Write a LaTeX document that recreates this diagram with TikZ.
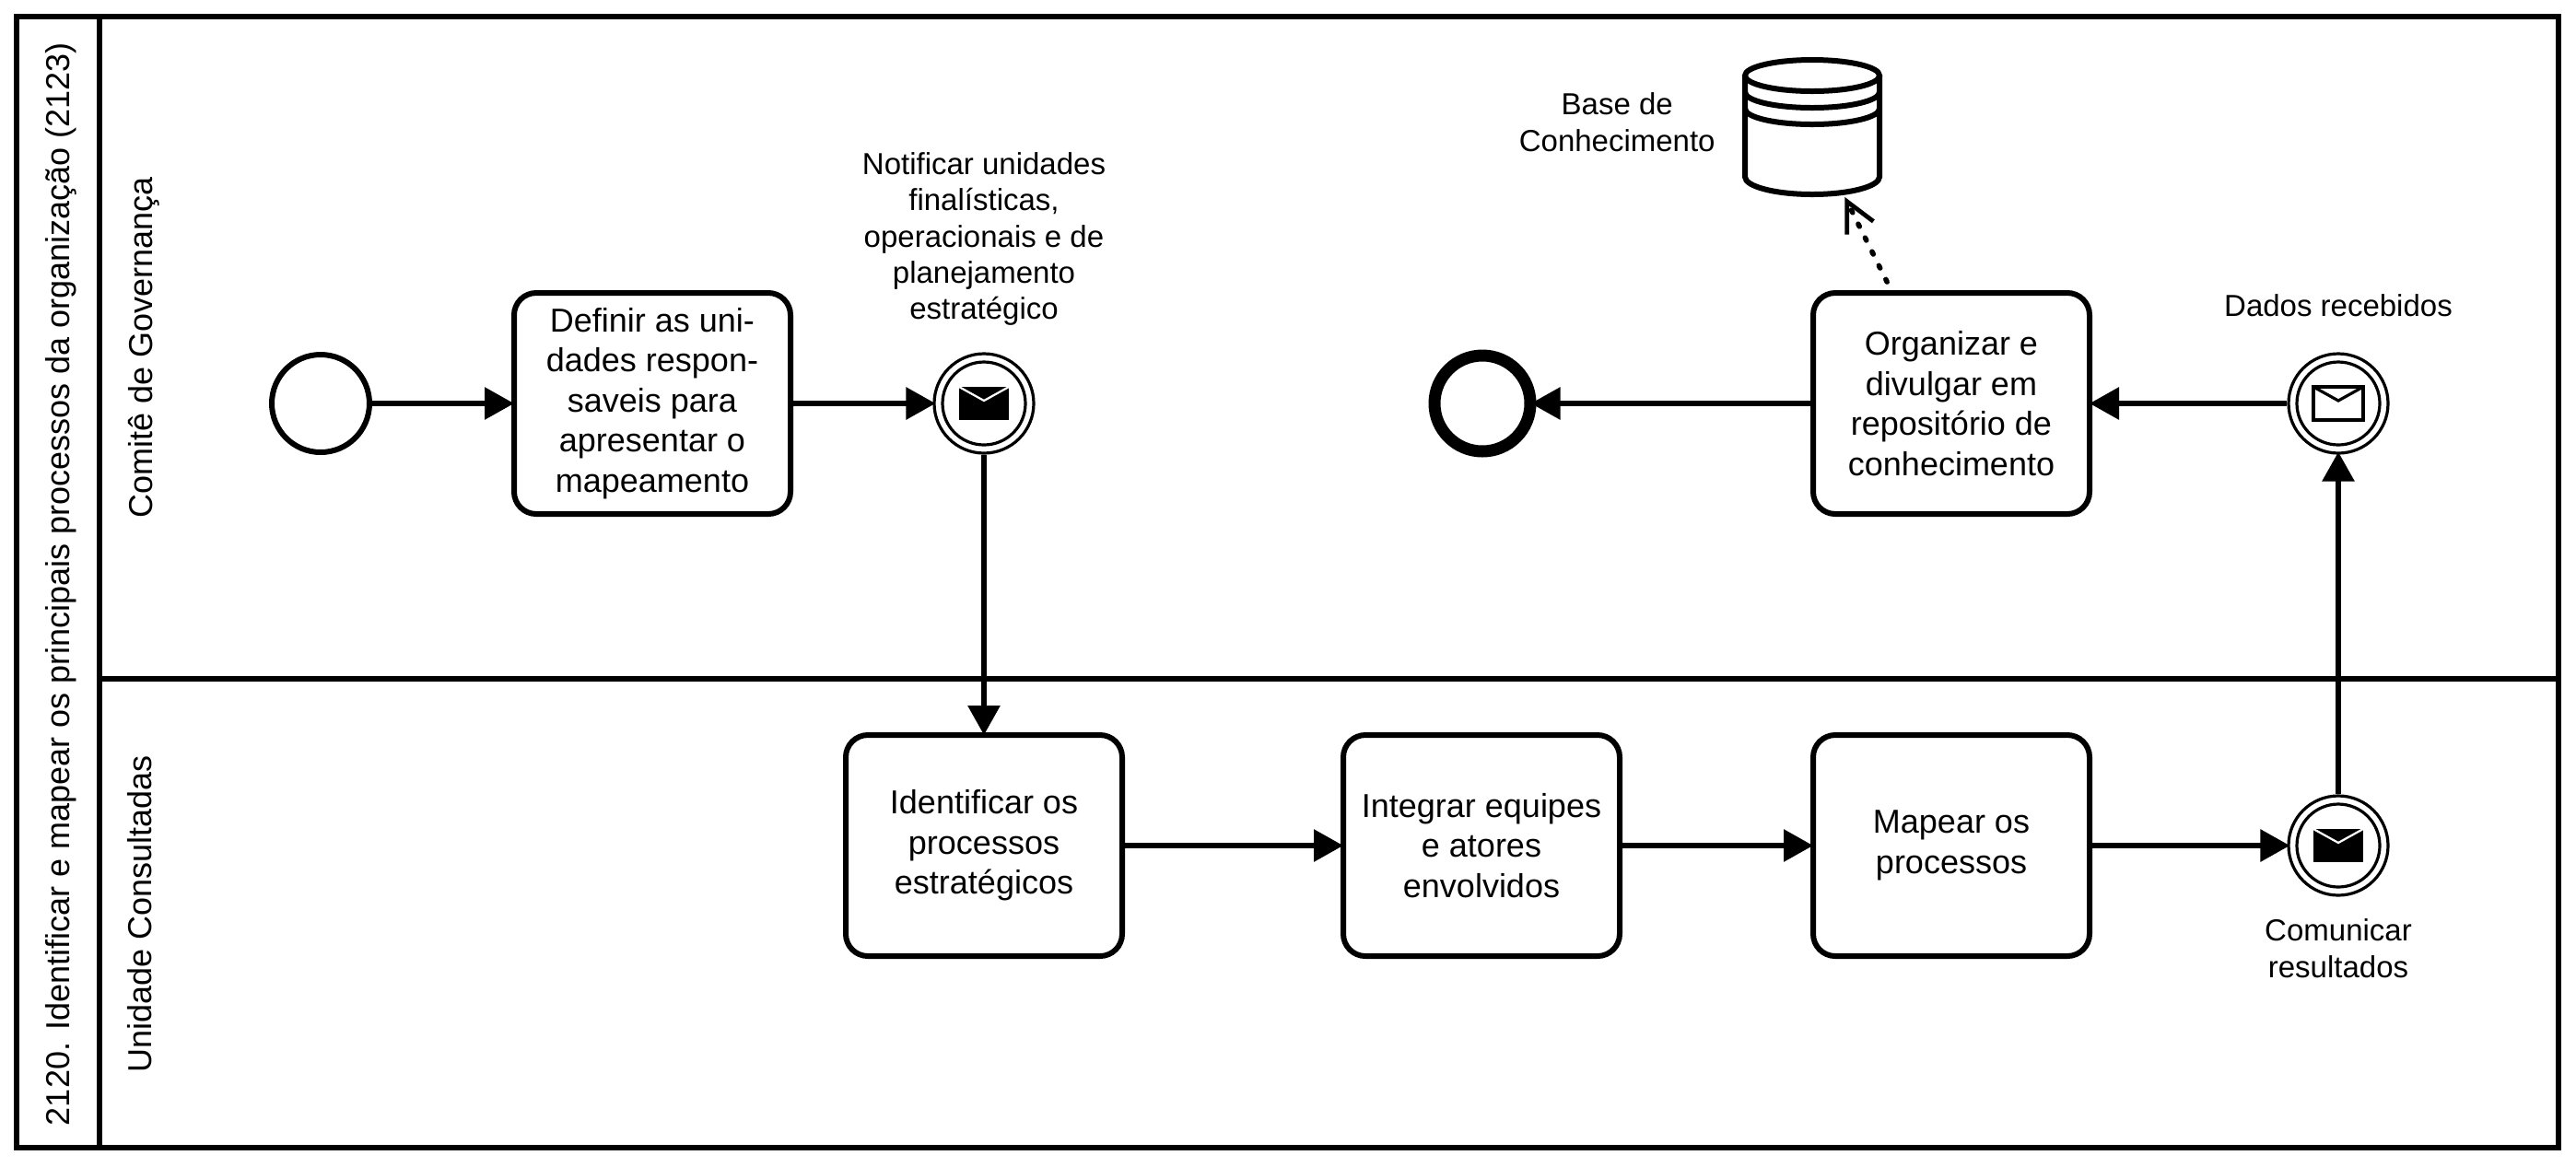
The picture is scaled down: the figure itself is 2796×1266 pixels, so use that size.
\documentclass[tikz,border=0pt]{standalone}
\usepackage{fontspec}
\setmainfont{Liberation Sans}
\usetikzlibrary{arrows.meta,positioning}

\tikzset{
	poolline/.style={line width=3pt},
	tasknode/.style={draw,line width=3pt,rounded corners=12pt,minimum width=150pt,minimum height=120pt,align=center,inner sep=0pt,font=\fontsize{18}{21.8}\selectfont},
	startnode/.style={draw,circle,line width=3pt,minimum size=53pt,inner sep=0pt},
	endnode/.style={draw,circle,line width=6.5pt,minimum size=52pt,inner sep=0pt},
	msgnode/.style={draw,circle,line width=1.6pt,minimum size=54pt,inner sep=0pt},
	eventlabel/.style={align=center,inner sep=0pt,font=\fontsize{16.5}{19.6}\selectfont},
	swimlabel/.style={rotate=90,inner sep=0pt,font=\fontsize{18}{21.6}\selectfont},
	flow/.style={line width=3pt,shorten >=-1.5pt,-{Triangle[length=16pt,width=17pt]}},
	dataflow/.style={line width=2.8pt,line cap=round,dash pattern=on 1.5pt off 6.9pt,shorten <=5pt,-{Straight Barb[length=16pt,width=16pt,line width=2.4pt]}},
	dbbox/.style={minimum width=73pt,minimum height=76pt,inner sep=0pt,outer sep=0pt},
	pics/msgsend/.style={code={
		\draw[line width=1.6pt] (0,0) circle (45);
		\fill (-27,-18) rectangle (27,18);
		\draw[white,line width=1.1pt] (-27,-18) -- (0,-3) -- (27,-18);
	}},
	pics/msgrecv/.style={code={
		\draw[line width=1.6pt] (0,0) circle (45);
		\draw[line width=1.6pt] (-27,-18) rectangle (27,18);
		\draw[line width=1.6pt] (-27,-18) -- (0,-3) -- (27,-18);
	}}
}

\begin{document}
\begin{tikzpicture}[x=0.5pt,y=-0.5pt]
	\useasboundingbox (0,0) rectangle (2796,1266);
	% pool and lanes
	\draw[poolline] (18,18) rectangle (2777,1246);
	\draw[poolline] (108,18) -- (108,1246);
	\draw[poolline] (108,737) -- (2777,737);
	\node[swimlabel] (pooltitle) at (66,634) {2120. Identificar e mapear os principais processos da organização (2123)};
	\node[swimlabel] (lanegov) at (156,377) {Comitê de Governança};
	\node[swimlabel] (laneunit) at (152,992) {Unidade Consultadas};

	% upper lane
	\node[startnode] (inicio) at (348,438) {};
	\node[tasknode] (definir) at (708,438) {Definir as uni-\\dades respon-\\saveis para\\apresentar o\\mapeamento};
	\node[msgnode] (notificar) at (1068,438) {};
	\pic at (notificar) {msgsend};
	\node[endnode] (fim) at (1609,438) {};
	\node[tasknode] (organizar) at (2118,438) {Organizar e\\divulgar em\\repositório de\\conhecimento};
	\node[msgnode] (dados) at (2538,438) {};
	\pic at (dados) {msgrecv};

	% lower lane
	\node[tasknode] (identificar) at (1068,918) {Identificar os\\processos\\estratégicos};
	\node[tasknode] (integrar) at (1608,918) {Integrar equipes\\e atores\\envolvidos};
	\node[tasknode] (mapear) at (2118,918) {Mapear os\\processos};
	\node[msgnode] (comunicar) at (2538,918) {};
	\pic at (comunicar) {msgsend};

	% data store
	\node[dbbox] (base) at (1967,138) {};
	\begin{scope}[shift={(base.center)},line width=3pt]
		\draw (0,-56) ellipse [x radius=73,y radius=17];
		\draw (-73,-38) arc [start angle=180,end angle=0,x radius=73,y radius=17];
		\draw (-73,-20) arc [start angle=180,end angle=0,x radius=73,y radius=17];
		\draw (-73,-56) -- (-73,54) arc [start angle=180,end angle=0,x radius=73,y radius=19] -- (73,-56);
	\end{scope}

	% labels
	\node[eventlabel,above=14.3pt of notificar] (txtnotificar) {Notificar unidades\\finalísticas,\\operacionais e de\\planejamento\\estratégico};
	\node[eventlabel,above=19pt of dados] (txtdados) {Dados recebidos};
	\node[eventlabel,below=12pt of comunicar] (txtcomunicar) {Comunicar\\resultados};
	\node[eventlabel,left=16pt of base,yshift=2.7pt] (txtbase) {Base de\\Conhecimento};

	% flows
	\draw[flow] (inicio) -- (definir);
	\draw[flow] (definir) -- (notificar);
	\draw[flow] (notificar) -- (identificar);
	\draw[flow] (identificar) -- (integrar);
	\draw[flow] (integrar) -- (mapear);
	\draw[flow] (mapear) -- (comunicar);
	\draw[flow] (comunicar) -- (dados);
	\draw[flow] (dados) -- (organizar);
	\draw[flow,shorten >=-3pt] (organizar) -- (fim);
	\draw[dataflow] (organizar.118) -- (base.-65);
\end{tikzpicture}
\end{document}
